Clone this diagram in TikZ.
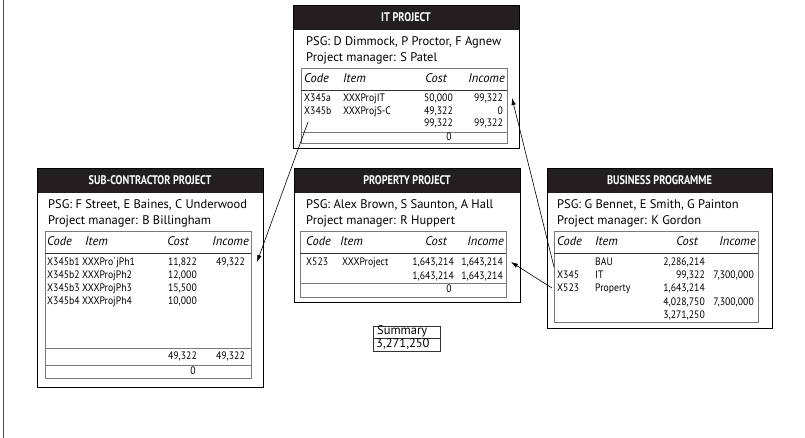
\documentclass[tikz,border=0pt]{standalone}
\usepackage{fontspec}
\setmainfont{PT Sans}
\newfontfamily\condtd[FakeStretch=0.9]{PT Sans}
\newfontfamily\condttl[FakeStretch=0.82]{PT Sans}
\usetikzlibrary{arrows.meta}
\definecolor{hdr}{HTML}{231F20}
\definecolor{tline}{HTML}{7A7A7A}
\tikzset{
 boxfill/.style={fill=white},
 outerbox/.style={draw=black, line width=0.9pt},
 hdrband/.style={fill=hdr},
 tbl/.style={draw=tline, line width=1pt},
 hline/.style={draw=black!80, line width=0.7pt},
 gline/.style={draw=tline, line width=1pt},
 ttl/.style={text=white, font=\condttl\bfseries\fontsize{12.5}{14}\selectfont, inner sep=0},
 info/.style={anchor=mid west, font=\fontsize{12.5}{14}\selectfont, inner sep=0},
 th/.style={font=\itshape\fontsize{12.5}{14}\selectfont, inner sep=0},
 thl/.style={th, anchor=mid west},
 thr/.style={th, anchor=mid east},
 td/.style={font=\condtd\fontsize{10.8}{12}\selectfont, inner sep=0},
 tdl/.style={td, anchor=mid west},
 tdr/.style={td, anchor=mid east},
 tdc/.style={td, anchor=mid},
 sumtxt/.style={anchor=mid west, font=\fontsize{12.5}{14}\selectfont, inner sep=0},
 conn/.style={draw=black, line width=0.6pt, -{Latex[length=7pt,width=4.5pt]}},
}
\begin{document}
\begin{tikzpicture}[x=1pt,y=-1pt]
\useasboundingbox (0,0) rectangle (805,438);
\draw[line width=1pt, black!70] (3,0) -- (3,438);

% ---------- IT PROJECT ----------
\fill[boxfill] (293,5) rectangle (519,148);
\fill[hdrband] (293,5) rectangle (519,30);
\draw[outerbox] (293,5) rectangle (519,148);
\node[ttl] (itT) at (406,17.5) {IT PROJECT};
\node[info] (itP) at (306,43) {PSG: D Dimmock, P Proctor, F Agnew};
\node[info] (itM) at (306,59) {Project manager: S Patel};
\draw[tbl] (301,69) rectangle (507,144);
\draw[hline] (301,90) -- (507,90);
\draw[gline] (301,133) -- (507,133);
\node[thl] (itH1) at (304,80) {Code};
\node[thl] (itH2) at (343,80) {Item};
\node[thr] (itH3) at (447,80) {Cost};
\node[thr] (itH4) at (505,80) {Income};
\node[tdl] (itR1a) at (304,99.5) {X345a};
\node[tdl] (itR1b) at (343,99.5) {XXXProjIT};
\node[tdr] (itR1c) at (453,99.5) {50,000};
\node[tdr] (itR1d) at (503,99.5) {99,322};
\node[tdl] (itR2a) at (304,112) {X345b};
\node[tdl] (itR2b) at (343,112) {XXXProjS-C};
\node[tdr] (itR2c) at (453,112) {49,322};
\node[tdr] (itR2d) at (503,112) {0};
\node[tdr] (itR3c) at (453,124.5) {99,322};
\node[tdr] (itR3d) at (503,124.5) {99,322};
\node[tdc] (itZ) at (449,138.5) {0};

% ---------- SUB-CONTRACTOR PROJECT ----------
\fill[boxfill] (37,168) rectangle (263,387);
\fill[hdrband] (37,168) rectangle (263,193);
\draw[outerbox] (37,168) rectangle (263,387);
\node[ttl] (scT) at (150,180.5) {SUB-CONTRACTOR PROJECT};
\node[info] (scP) at (48,206) {PSG: F Street, E Baines, C Underwood};
\node[info] (scM) at (48,222) {Project manager: B Billingham};
\draw[tbl] (45,232) rectangle (251,378);
\draw[hline] (45,253) -- (251,253);
\draw[gline] (45,348) -- (251,348);
\draw[gline] (45,365) -- (251,365);
\node[thl] (scH1) at (47,243) {Code};
\node[thl] (scH2) at (85,243) {Item};
\node[thr] (scH3) at (189,243) {Cost};
\node[thr] (scH4) at (249,243) {Income};
\node[tdl] (scR1a) at (47,263) {X345b1};
\node[tdl] (scR1b) at (82,263) {XXXPro\textasciigrave jPh1};
\node[tdr] (scR1c) at (197,263) {11,822};
\node[tdr] (scR1d) at (245,263) {49,322};
\node[tdl] (scR2a) at (47,276) {X345b2};
\node[tdl] (scR2b) at (82,276) {XXXProjPh2};
\node[tdr] (scR2c) at (197,276) {12,000};
\node[tdl] (scR3a) at (47,289) {X345b3};
\node[tdl] (scR3b) at (82,289) {XXXProjPh3};
\node[tdr] (scR3c) at (197,289) {15,500};
\node[tdl] (scR4a) at (47,302) {X345b4};
\node[tdl] (scR4b) at (82,302) {XXXProjPh4};
\node[tdr] (scR4c) at (197,302) {10,000};
\node[tdr] (scS1) at (197,357) {49,322};
\node[tdr] (scS2) at (245,357) {49,322};
\node[tdc] (scZ) at (193,371.5) {0};

% ---------- PROPERTY PROJECT ----------
\fill[boxfill] (294,168) rectangle (520,302);
\fill[hdrband] (294,168) rectangle (520,193);
\draw[outerbox] (294,168) rectangle (520,302);
\node[ttl] (prT) at (407,180.5) {PROPERTY PROJECT};
\node[info] (prP) at (306,206) {PSG: Alex Brown, S Saunton, A Hall};
\node[info] (prM) at (306,222) {Project manager: R Huppert};
\draw[tbl] (300,232) rectangle (506,297);
\draw[hline] (300,253) -- (506,253);
\draw[gline] (300,283) -- (506,283);
\node[thl] (prH1) at (306,243) {Code};
\node[thl] (prH2) at (340,243) {Item};
\node[thr] (prH3) at (447,243) {Cost};
\node[thr] (prH4) at (504,243) {Income};
\node[tdl] (prR1a) at (306,263) {X523};
\node[tdl] (prR1b) at (342,263) {XXXProject};
\node[tdr] (prR1c) at (454,263) {1,643,214};
\node[tdr] (prR1d) at (503,263) {1,643,214};
\node[tdr] (prR2c) at (454,276.5) {1,643,214};
\node[tdr] (prR2d) at (503,276.5) {1,643,214};
\node[tdc] (prZ) at (449,290) {0};

% ---------- BUSINESS PROGRAMME ----------
\fill[boxfill] (547,168) rectangle (772,328);
\fill[hdrband] (547,168) rectangle (772,193);
\draw[outerbox] (547,168) rectangle (772,328);
\node[ttl] (bpT) at (659.5,180.5) {BUSINESS PROGRAMME};
\node[info] (bpP) at (557,206) {PSG: G Bennet, E Smith, G Painton};
\node[info] (bpM) at (557,222) {Project manager: K Gordon};
\draw[tbl] (554,232) rectangle (758,322);
\draw[hline] (554,253) -- (758,253);
\node[thl] (bpH1) at (557,243) {Code};
\node[thl] (bpH2) at (595,243) {Item};
\node[thr] (bpH3) at (698,243) {Cost};
\node[thr] (bpH4) at (756,243) {Income};
\node[tdl] (bpR1b) at (595,263) {BAU};
\node[tdr] (bpR1c) at (705,263) {2,286,214};
\node[tdl] (bpR2a) at (557,276) {X345};
\node[tdl] (bpR2b) at (595,276) {IT};
\node[tdr] (bpR2c) at (705,276) {99,322};
\node[tdr] (bpR2d) at (754,276) {7,300,000};
\node[tdl] (bpR3a) at (557,289) {X523};
\node[tdl] (bpR3b) at (595,289) {Property};
\node[tdr] (bpR3c) at (705,289) {1,643,214};
\node[tdr] (bpR4c) at (705,302.5) {4,028,750};
\node[tdr] (bpR4d) at (754,302.5) {7,300,000};
\node[tdr] (bpR5c) at (705,316) {3,271,250};

% ---------- SUMMARY ----------
\draw[line width=0.8pt, black!80] (373,326) rectangle (440,351);
\draw[line width=0.8pt, black!80] (373,338.5) -- (440,338.5);
\node[sumtxt] (smT) at (377,332) {Summary};
\node[sumtxt] (smV) at (376,345) {3,271,250};

% ---------- CONNECTORS ----------
\coordinate (a1s) at (308,122);
\coordinate (a1e) at (257,262);
\coordinate (a2s) at (554,267);
\coordinate (a2e) at (512,98);
\coordinate (a3s) at (552,288);
\coordinate (a3e) at (511,262);
\draw[conn] (a1s) -- (a1e);
\draw[conn] (a2s) -- (a2e);
\draw[conn] (a3s) -- (a3e);
\end{tikzpicture}
\end{document}
